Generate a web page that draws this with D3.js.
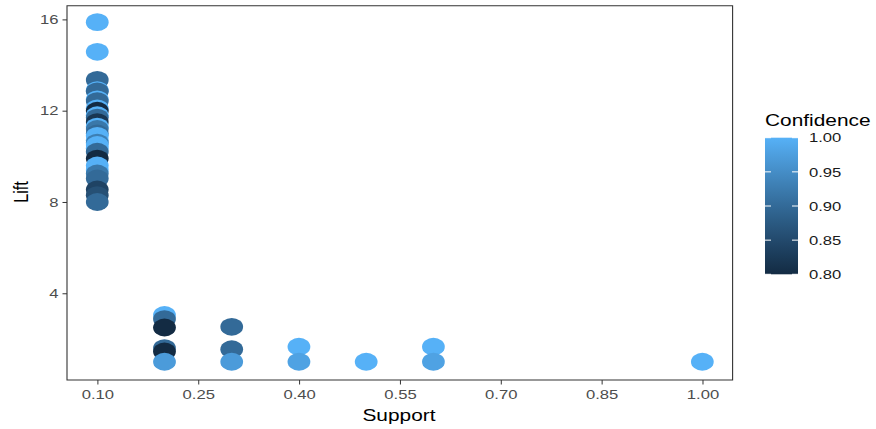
<!DOCTYPE html>
<html>
<head>
<meta charset="utf-8">
<script src="https://cdn.jsdelivr.net/npm/d3@7"></script>
<style>
  body { margin: 0; background: #fff; }
  svg { display: block; }
  text { font-family: "Liberation Sans", Arial, sans-serif; }
</style>
</head>
<body>
<svg id="chart"></svg>
<script>
// Rules data
const support = [
  0.1, 0.1, 0.1, 0.1, 0.1, 0.1, 0.1, 0.1, 0.1, 0.1,
  0.1, 0.1, 0.1, 0.1, 0.1, 0.1, 0.1, 0.1, 0.1, 0.1,
  0.1, 0.1, 0.1, 0.1, 0.1, 0.1, 0.1, 0.1, 0.1,
  0.2, 0.2, 0.2, 0.2, 0.2, 0.2,
  0.3, 0.3, 0.3,
  0.4, 0.4,
  0.5,
  0.6, 0.6,
  1.0
];
const lift = [
  15.88, 14.58, 13.35, 12.9, 12.85, 12.5, 12.42, 12.1, 12.0, 11.8,
  11.7, 11.5, 11.3, 11.2, 11.0, 10.9, 10.7, 10.6, 10.5, 10.35,
  10.2, 9.9, 9.6, 9.4, 9.25, 9.03, 8.55, 8.3, 8.0,
  3.05, 2.87, 2.5, 1.6, 1.45, 1.0,
  2.53, 1.55, 1.0,
  1.66, 1.0,
  1.0,
  1.66, 1.0,
  1.0
];
const confidence = [
  1.0, 1.0, 0.9, 1.0, 0.9, 1.0, 0.9, 1.0, 0.8, 1.0,
  0.9, 0.82, 1.0, 0.92, 0.9, 1.0, 1.0, 0.93, 1.0, 1.0,
  0.9, 0.8, 1.0, 1.0, 0.92, 0.9, 0.84, 0.86, 0.9,
  1.0, 0.9, 0.8, 0.9, 0.8, 0.97,
  0.9, 0.9, 0.97,
  1.0, 0.98,
  1.0,
  1.0, 0.98,
  1.0
];
const xTicks = [0.10, 0.25, 0.40, 0.55, 0.70, 0.85, 1.00];
const yTicks = [4, 8, 12, 16];
const legendTicks = [0.80, 0.85, 0.90, 0.95, 1.00];

// The reference is stretched horizontally, so draw narrow and stretch
const width = 876;
const height = 429;
const S = 1.28;
const X = px => px / S;   // convert screen px to drawing units

const svg = d3.select("#chart")
  .attr("width", width)
  .attr("height", height)
  .attr("viewBox", `0 0 ${width / S} ${height}`)
  .attr("preserveAspectRatio", "none");

// panel box
const panel = { left: X(67), right: X(732.6), top: 5.7, bottom: 380 };

// scales (ggplot style 5% expansion)
const x = d3.scaleLinear()
  .domain([0.055, 1.045])
  .range([panel.left, panel.right]);
const y = d3.scaleLinear()
  .domain([0.2, 16.6])
  .range([panel.bottom, panel.top]);

const color = d3.scaleLinear()
  .domain([0.8, 1.0])
  .range(["#132B43", "#56B1F7"])
  .interpolate(d3.interpolateLab);

// points, drawn from highest lift down so lower ones sit on top
const rules = support.map((s, i) => ({ support: s, lift: lift[i], confidence: confidence[i] }));
rules.sort((a, b) => b.lift - a.lift);

svg.append("g")
  .selectAll("circle")
  .data(rules)
  .enter().append("circle")
  .attr("cx", d => x(d.support))
  .attr("cy", d => y(d.lift))
  .attr("r", 8.9)
  .attr("fill", d => color(d.confidence));

// panel border
svg.append("rect")
  .attr("x", panel.left)
  .attr("y", panel.top)
  .attr("width", panel.right - panel.left)
  .attr("height", panel.bottom - panel.top)
  .attr("fill", "none")
  .attr("stroke", "#333")
  .attr("stroke-width", 1.1)
  .attr("vector-effect", "non-scaling-stroke");

// x axis
const xAxis = svg.append("g")
  .attr("transform", `translate(0,${panel.bottom})`)
  .call(d3.axisBottom(x).tickValues(xTicks).tickFormat(d3.format(".2f")).tickSize(4.5).tickPadding(5));
xAxis.select(".domain").remove();
xAxis.selectAll("line").attr("stroke", "#333").attr("vector-effect", "non-scaling-stroke");
xAxis.selectAll("text")
  .attr("fill", "#4D4D4D")
  .style("font-size", "13px")
  .style("font-family", "'Liberation Sans', Arial, sans-serif");

// y axis
const yAxis = svg.append("g")
  .attr("transform", `translate(${panel.left},0)`)
  .call(d3.axisLeft(y).tickValues(yTicks).tickSize(X(4.5)).tickPadding(X(4)));
yAxis.select(".domain").remove();
yAxis.selectAll("line").attr("stroke", "#333").attr("vector-effect", "non-scaling-stroke");
yAxis.selectAll("text")
  .attr("fill", "#4D4D4D")
  .style("font-size", "13px")
  .style("font-family", "'Liberation Sans', Arial, sans-serif");

// axis titles
svg.append("text")
  .attr("x", X(399))
  .attr("y", 421)
  .attr("text-anchor", "middle")
  .style("font-size", "16.3px")
  .text("Support");

svg.append("text")
  .attr("transform", `translate(${X(28)},${192}) rotate(-90)`)
  .attr("text-anchor", "middle")
  .style("font-size", "16.3px")
  .text("Lift");

// legend
const bar = { left: X(765), right: X(798), top: 137.7, bottom: 274.3 };
const legendY = d3.scaleLinear().domain([0.8, 1.0]).range([bar.bottom, bar.top]);

const grad = svg.append("defs").append("linearGradient")
  .attr("id", "confGrad")
  .attr("x1", 0).attr("y1", 1).attr("x2", 0).attr("y2", 0);
grad.selectAll("stop")
  .data(d3.range(0, 1.0001, 0.1))
  .enter().append("stop")
  .attr("offset", d => d)
  .attr("stop-color", d => color(0.8 + d * 0.2));

svg.append("rect")
  .attr("x", bar.left)
  .attr("y", bar.top)
  .attr("width", bar.right - bar.left)
  .attr("height", bar.bottom - bar.top)
  .attr("fill", "url(#confGrad)");

const tickLen = X(6);
const legendG = svg.append("g");
legendG.selectAll("line.l")
  .data(legendTicks)
  .enter().append("line")
  .attr("x1", bar.left).attr("x2", bar.left + tickLen)
  .attr("y1", d => legendY(d)).attr("y2", d => legendY(d))
  .attr("stroke", "#fff").attr("stroke-width", 1)
  .attr("vector-effect", "non-scaling-stroke");
legendG.selectAll("line.r")
  .data(legendTicks)
  .enter().append("line")
  .attr("x1", bar.right - tickLen).attr("x2", bar.right)
  .attr("y1", d => legendY(d)).attr("y2", d => legendY(d))
  .attr("stroke", "#fff").attr("stroke-width", 1)
  .attr("vector-effect", "non-scaling-stroke");

legendG.selectAll("text")
  .data(legendTicks)
  .enter().append("text")
  .attr("x", X(809))
  .attr("y", d => legendY(d))
  .attr("dy", "0.36em")
  .style("font-size", "13px")
  .attr("fill", "#1a1a1a")
  .text(d => d3.format(".2f")(d));

svg.append("text")
  .attr("x", X(765))
  .attr("y", 126.5)
  .style("font-size", "16.3px")
  .text("Confidence");
</script>
</body>
</html>
